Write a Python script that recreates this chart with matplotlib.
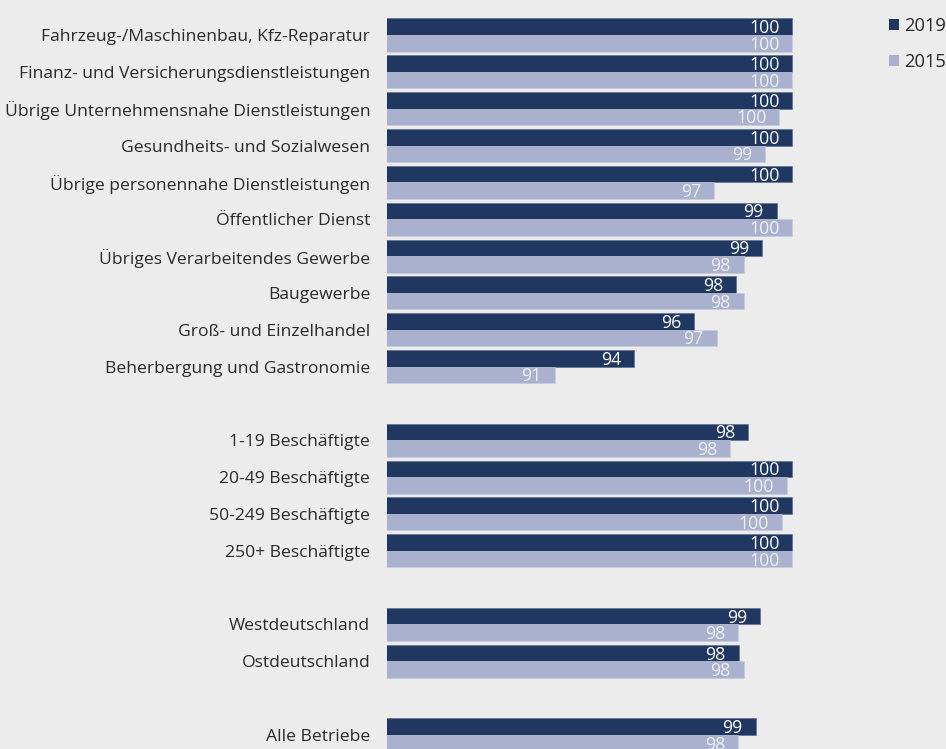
import matplotlib
matplotlib.use("Agg")
import matplotlib.pyplot as plt
from matplotlib.patches import Patch
import matplotlib.transforms as mtransforms

categories = [
    "Fahrzeug-/Maschinenbau, Kfz-Reparatur",
    "Finanz- und Versicherungsdienstleistungen",
    "Übrige Unternehmensnahe Dienstleistungen",
    "Gesundheits- und Sozialwesen",
    "Übrige personennahe Dienstleistungen",
    "Öffentlicher Dienst",
    "Übriges Verarbeitendes Gewerbe",
    "Baugewerbe",
    "Groß- und Einzelhandel",
    "Beherbergung und Gastronomie",
    "1-19 Beschäftigte",
    "20-49 Beschäftigte",
    "50-249 Beschäftigte",
    "250+ Beschäftigte",
    "Westdeutschland",
    "Ostdeutschland",
    "Alle Betriebe",
]
slots = [0, 1, 2, 3, 4, 5, 6, 7, 8, 9, 11, 12, 13, 14, 16, 17, 19]

values_2019 = [100, 100, 100, 100, 100, 99.42, 98.88, 97.93, 96.37, 94.15,
               98.37, 100, 100, 100, 98.8, 98.01, 98.64]
values_2015 = [100, 100, 99.52, 99.0, 97.11, 100, 98.2, 98.2, 97.2, 91.2,
               97.7, 99.8, 99.61, 100, 98.0, 98.2, 98.0]
series_labels = ["2019", "2015"]

BG = "#ECECEC"
C19 = "#1F3761"
C15 = "#AAB1CF"
TXT = "#2A2A2A"

plt.rcParams["font.family"] = ["Open Sans", "DejaVu Sans"]

W, H = 946, 749
fig = plt.figure(figsize=(W / 100, H / 100), dpi=100)
fig.patch.set_facecolor(BG)

left_px = 387.3
ax = fig.add_axes([left_px / W, 0, 1 - left_px / W, 1])
ax.set_facecolor(BG)

xmin = 85
px_per_unit = 27.0
xmax = xmin + (W - left_px) / px_per_unit
ax.set_xlim(xmin, xmax)

pitch = 36.84
first_center = 35.0
ytop = -first_center / pitch
ybot = (H - first_center) / pitch
ax.set_ylim(ybot, ytop)

bh = 0.448
off = bh / 2
y19 = [s - off for s in slots]
y15 = [s + off for s in slots]
ax.barh(y19, values_2019, height=bh, color=C19, edgecolor="#5a6a8c", linewidth=0.4)
ax.barh(y15, values_2015, height=bh, color=C15, edgecolor="#c5cadd", linewidth=0.4)

trans = mtransforms.offset_copy(ax.transData, fig=fig, x=-13, y=-6.5, units="dots")
for y, v in zip(y19, values_2019):
    ax.text(v, y, f"{round(v):d}", transform=trans, ha="right", va="baseline",
            color="white", fontsize=12.8)
for y, v in zip(y15, values_2015):
    ax.text(v, y, f"{round(v):d}", transform=trans, ha="right", va="baseline",
            color="#EEF0F6", fontsize=12.8)

ax.set_yticks(slots)
ax.set_yticklabels(categories, fontsize=12.6, color=TXT)
ax.tick_params(axis="y", length=0, pad=12.3)
ax.set_xticks([])
for sp in ax.spines.values():
    sp.set_visible(False)

handles = [Patch(facecolor=C19), Patch(facecolor=C15)]
fig.legend(handles, series_labels, loc="upper left", bbox_to_anchor=(889 / W, 1 - 17 / H),
           frameon=False, handlelength=0.55, handleheight=0.55, handletextpad=0.25,
           labelspacing=1.0, fontsize=13.2, labelcolor=TXT, borderaxespad=0, borderpad=0)

fig.savefig("out.png", dpi=100, facecolor=BG)
